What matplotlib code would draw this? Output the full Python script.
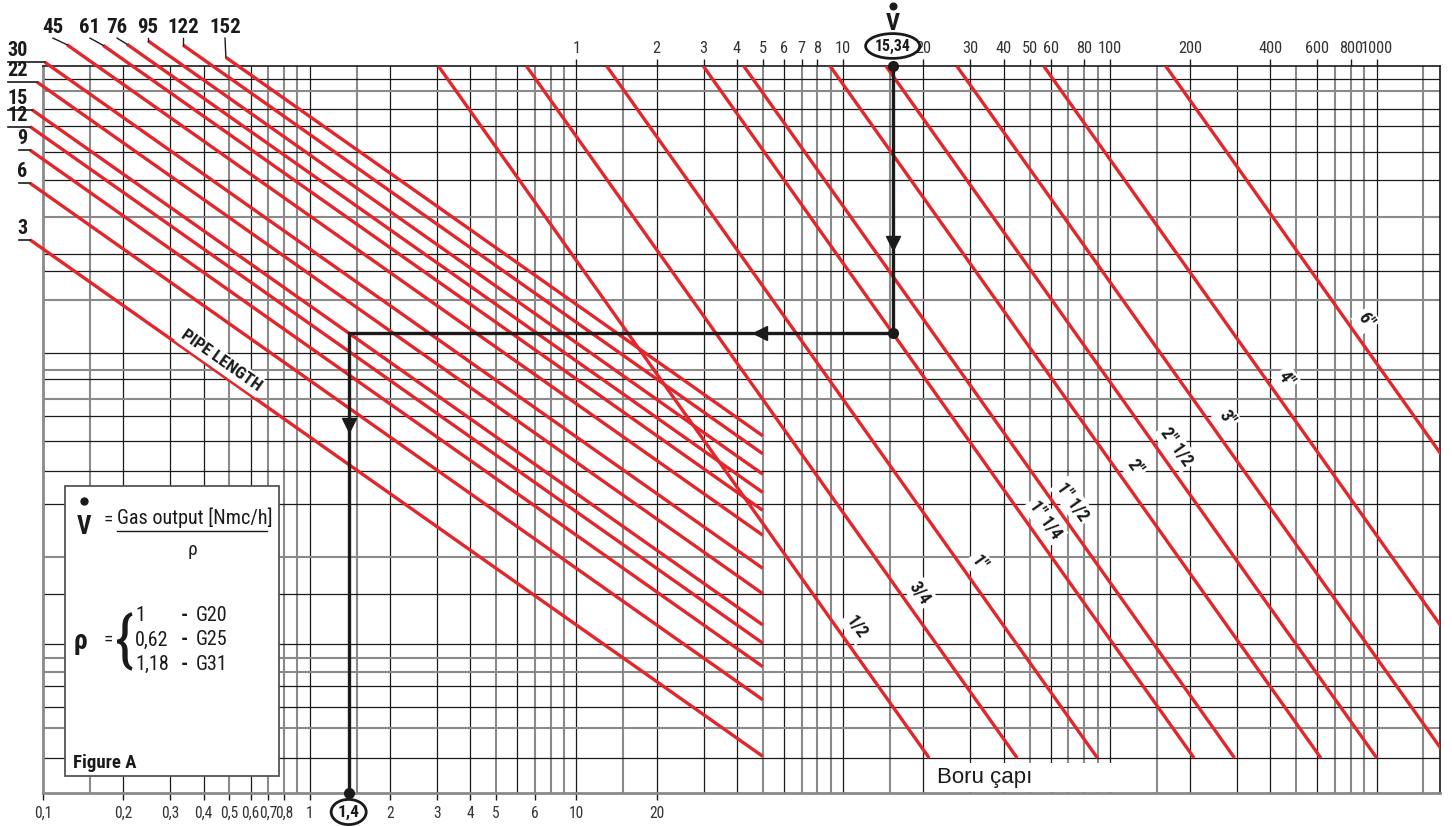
import numpy as np
import matplotlib.pyplot as plt
from matplotlib import font_manager
from matplotlib.patches import Rectangle
from matplotlib.ticker import NullLocator
from matplotlib.transforms import offset_copy

installed = {f.name for f in font_manager.fontManager.ttflist}


def condensed_font():
    for name in ["Roboto Condensed", "Liberation Sans Narrow", "Arial Narrow",
                 "Noto Sans Condensed", "Open Sans Condensed", "DejaVu Sans Condensed"]:
        if name in installed:
            return {"family": name}, 1.0
    for f in font_manager.fontManager.ttflist:
        if str(f.stretch) in ("condensed", "semi-condensed", "extra-condensed") \
                and "Mono" not in f.name and "Serif" not in f.name:
            return {"family": f.name, "fontstretch": f.stretch}, 1.0
    for name in ["Roboto", "Liberation Sans"]:
        if name in installed:
            return {"family": name}, 0.88
    return {"family": "DejaVu Sans"}, 0.8


COND, SHRINK = condensed_font()
PLAIN = "Liberation Sans" if "Liberation Sans" in installed else "DejaVu Sans"


def font(size, bold=False):
    kw = dict(COND)
    kw["fontsize"] = size * SHRINK
    if bold:
        kw["fontweight"] = "bold"
    return kw


RED = "#e3262b"
INK = "#1a1a1a"
GREY = "#8a8a8a"

# --- scales -------------------------------------------------------------
# vertical: pressure drop per metre (log, grows downwards)
# bottom:   total pressure drop = gradient * pipe length
# top:      corrected gas flow, read on the same log scale (flow = bottom / 10)
grad_min, grad_max = 0.003547, 26.1
bottom_min, bottom_max = 0.1, 17300

top_ticks = [1, 2, 3, 4, 5, 6, 7, 8, 10, 20, 30, 40, 50, 60, 80, 100, 200, 400, 600, 800, 1000]
bottom_ticks = [0.1, 0.2, 0.3, 0.4, 0.5, 0.6, 0.7, 0.8, 1, 2, 3, 4, 5, 7, 10, 20]
bottom_labels = ["0,1", "0,2", "0,3", "0,4", "0,5", "0,6", "0,7", "0,8", "1", "2", "3",
                 "4", "5", "6", "10", "20"]

# grid
grid_mantissa = [1, 1.5, 2, 3, 4, 5, 6, 7, 8, 9]
grid_mantissa_grey = [1.5, 5, 7, 8, 9]
grid_decades = [0.1, 1, 10, 100, 1000, 10000]
grid_grad = [0.00416, 0.00482, 0.00600, 0.00739, 0.01017, 0.01433, 0.02254, 0.0355, 0.0437,
             0.0623, 0.1192, 0.1468, 0.1640, 0.2094, 0.2580, 0.3503, 0.506, 0.758, 1.450,
             2.282, 4.21, 5.00, 5.93, 7.04, 9.11, 11.78, 17.01]
grid_grad_grey = [0.00482, 0.02254, 0.0623, 0.1468, 0.2094, 1.450, 5.00, 5.93, 11.78]

# pipe lengths [m]
pipe_lengths = [3, 6, 9, 12, 15, 22, 30, 45, 61, 76, 95, 122, 152]
pipe_start = [0.0894, 0.0894, 0.0894, 0.0894, 0.0909, 0.0950, 0.1017, 0.123, 0.168, 0.2065,
              0.2476, 0.335, 0.485]
pipe_end = 50
# lengths labelled on the left (underlined) and on top (with a leader)
left_labels = [3, 6, 9, 12, 15, 22, 30]
top_label_pos = {45: 0.109, 61: 0.150, 76: 0.1895, 95: 0.2476, 122: 0.335, 152: 0.4813}

# pipe diameters: flow at unit gradient, gradient where the name is written
diameters = ['1/2', '3/4', '1"', '1" 1/4', '1" 1/2', '2"', '2" 1/2', '3"', '4"', '6"']
flow_at_unit = [5.1, 10.9, 21.8, 50.2, 71.2, 150, 243, 448, 949, 2720]
label_grad = [3.42, 2.25, 1.56, 0.922, 0.739, 0.482, 0.377, 0.264, 0.164, 0.0796]
diam_end_grad = 17.01

# worked example
ex_flow = 15.34
ex_length = 15
ex_drop = 1.4


def on_diameter(qu, g):
    return 10 * qu * np.sqrt(g)


fig = plt.figure(figsize=(14.52, 8.27), dpi=100)
ax = fig.add_axes([43 / 1452, 1 - 793 / 827, 1397 / 1452, 727 / 827])
ax.set_xscale("log")
ax.set_yscale("log")
ax.set_xlim(bottom_min, bottom_max)
ax.set_ylim(grad_max, grad_min)

# grid
for dec in grid_decades:
    for m in grid_mantissa:
        b = m * dec
        if b <= bottom_min or b > 15000:
            continue
        grey = m in grid_mantissa_grey
        ax.axvline(b, color=GREY if grey else INK, lw=1.5 if grey else 0.9, zorder=1)
for g in grid_grad:
    grey = g in grid_grad_grey
    ax.axhline(g, color=GREY if grey else INK, lw=1.5 if grey else 0.9, zorder=1)

for side, col, lw in [("left", GREY, 2), ("bottom", GREY, 2), ("top", INK, 1.2), ("right", INK, 1.2)]:
    ax.spines[side].set_color(col)
    ax.spines[side].set_linewidth(lw)

ax.yaxis.set_major_locator(NullLocator())
ax.yaxis.set_minor_locator(NullLocator())
ax.xaxis.set_minor_locator(NullLocator())
ax.set_xticks(bottom_ticks)
ax.set_xticklabels(bottom_labels, **font(11.2))
ax.tick_params(axis="x", length=5, width=1, color=INK, pad=4, labelcolor="#333333")

top = ax.secondary_xaxis("top", functions=(lambda b: b / 10, lambda q: q * 10))
top.xaxis.set_minor_locator(NullLocator())
top.set_xticks(top_ticks)
top.set_xticklabels([str(v) for v in top_ticks], **font(11.8))
top.tick_params(axis="x", length=5, width=1, color=INK, pad=2, labelcolor="#333333")
top.spines["top"].set_visible(False)

# pipe length lines
for L, b0 in zip(pipe_lengths, pipe_start):
    b = np.array([b0, pipe_end])
    ax.plot(b, b / L, color=RED, lw=2.4, solid_capstyle="butt", zorder=3, clip_on=False)
    g0 = b0 / L
    if L in left_labels:
        b_left = 0.074 if L >= 10 else 0.081
        ax.plot([b_left, b0], [g0, g0], color=INK, lw=1.2, clip_on=False, zorder=3)
        ax.annotate(str(L), (0.0875, g0), xytext=(0, 2), textcoords="offset pixels",
                    ha="right", va="bottom", color=INK, annotation_clip=False,
                    **font(14.5, True))
    else:
        bl = top_label_pos[L]
        ax.plot([bl, b0], [0.00252, g0], color=INK, lw=1.0, clip_on=False, zorder=3)
        ax.text(bl, 0.00222, str(L), ha="center", va="center", color=INK, **font(15, True))

g_pl = 0.1315
ax.annotate("PIPE LENGTH", (pipe_lengths[0] * g_pl, g_pl), xytext=(19, 0),
            textcoords="offset pixels", rotation=-35.2, rotation_mode="anchor",
            ha="center", va="center", color=INK, zorder=4,
            bbox=dict(boxstyle="square,pad=0.15", fc="white", ec="none"), **font(12.5, True))

# pipe diameter lines
for name, qu, gl in zip(diameters, flow_at_unit, label_grad):
    g = np.geomspace(grad_min, diam_end_grad, 50)
    ax.plot(on_diameter(qu, g), g, color=RED, lw=2.4, solid_capstyle="butt", zorder=3)
    ax.annotate(name, (on_diameter(qu, gl), gl), xytext=(20, 0), textcoords="offset pixels",
                rotation=-54.7, rotation_mode="anchor", ha="center", va="center",
                color=INK, zorder=4,
                bbox=dict(boxstyle="square,pad=0.15", fc="white", ec="none"), **font(12.8, True))

ax.text(225, 21.6, "Boru çapı" + "\u00a0" * 14, ha="left", va="center", fontsize=16,
        family=PLAIN, color=INK, zorder=4,
        bbox=dict(boxstyle="square,pad=0.2", fc="white", ec="none"))

# worked example path
ex_grad = ex_drop / ex_length
b_ex = ex_flow * 10
ax.plot([b_ex, b_ex, ex_drop, ex_drop], [grad_min, ex_grad, ex_grad, grad_max], color=INK,
        lw=2.4, solid_joinstyle="miter", zorder=5, clip_on=False)
ax.plot([b_ex, b_ex, ex_drop], [grad_min, ex_grad, grad_max], "o", color=INK, ms=7,
        zorder=6, clip_on=False)
ax.plot([b_ex], [0.031], "v", color=INK, ms=10, zorder=6)
ax.plot([48.8], [ex_grad], "<", color=INK, ms=10, zorder=6)
ax.plot([ex_drop], [0.288], "v", color=INK, ms=10, zorder=6)

oval = dict(boxstyle="ellipse,pad=0.08", fc="white", ec=INK, lw=2)
ax.annotate("15,34", (b_ex, 1), xycoords=("data", "axes fraction"), xytext=(0, 20),
            textcoords="offset pixels", ha="center", va="center", color=INK, bbox=oval,
            annotation_clip=False, **font(11.3, True))
ax.annotate("V", (b_ex, 1), xycoords=("data", "axes fraction"), xytext=(0, 42),
            textcoords="offset pixels", ha="center", va="center", color=INK,
            annotation_clip=False, **font(17.5, True))
# dot over the V (flow rate symbol)
ax.plot([b_ex], [1], "o", color=INK, ms=4.8, clip_on=False,
        transform=offset_copy(ax.get_xaxis_transform(), fig=fig, y=60, units="dots"))
ax.annotate("1,4", (ex_drop, 0), xycoords=("data", "axes fraction"), xytext=(0, -19),
            textcoords="offset pixels", ha="center", va="center", color=INK, bbox=oval,
            annotation_clip=False, **font(12.5, True))

# key box
T = ax.transAxes
ax.add_patch(Rectangle((0.0158, 0.0234), 0.1531, 0.3989, transform=T, fc="white",
                       ec="#555555", lw=1.3, zorder=7))
kw = dict(transform=T, zorder=8, color=INK)
ax.text(0.0293, 0.366, "V", ha="center", va="center", **kw, **font(18, True))
ax.plot([0.0293], [0.402], "o", ms=5, color=INK, transform=T, zorder=8)
ax.text(0.0435, 0.376, "=", ha="left", va="center", **kw, **font(14))
ax.text(0.053, 0.378, "Gas output [Nmc/h]", ha="left", va="center", **kw, **font(14.5))
ax.plot([0.053, 0.160], [0.361, 0.361], transform=T, color=INK, lw=1, zorder=8)
ax.text(0.1067, 0.334, "ρ", ha="center", va="center", **kw, **font(14))
ax.text(0.0265, 0.209, "ρ", ha="center", va="center", **kw, **font(20, True))
ax.text(0.0435, 0.211, "=", ha="left", va="center", **kw, **font(14))
ax.text(0.0585, 0.207, "{", ha="center", va="center", **kw, **font(44))
for yy, a, gas in [(0.2448, "1", "G20"), (0.2105, "0,62", "G25"), (0.1774, "1,18", "G31")]:
    ax.text(0.0659, yy, a, ha="left", va="center", **kw, **font(14.5))
    ax.text(0.1009, yy, "-", ha="center", va="center", **kw, **font(14.5, True))
    ax.text(0.1090, yy, gas, ha="left", va="center", **kw, **font(14.5))
ax.text(0.0215, 0.0413, "Figure A", ha="left", va="center", **kw, **font(13.5, True))

fig.savefig("out.png", dpi=100)
